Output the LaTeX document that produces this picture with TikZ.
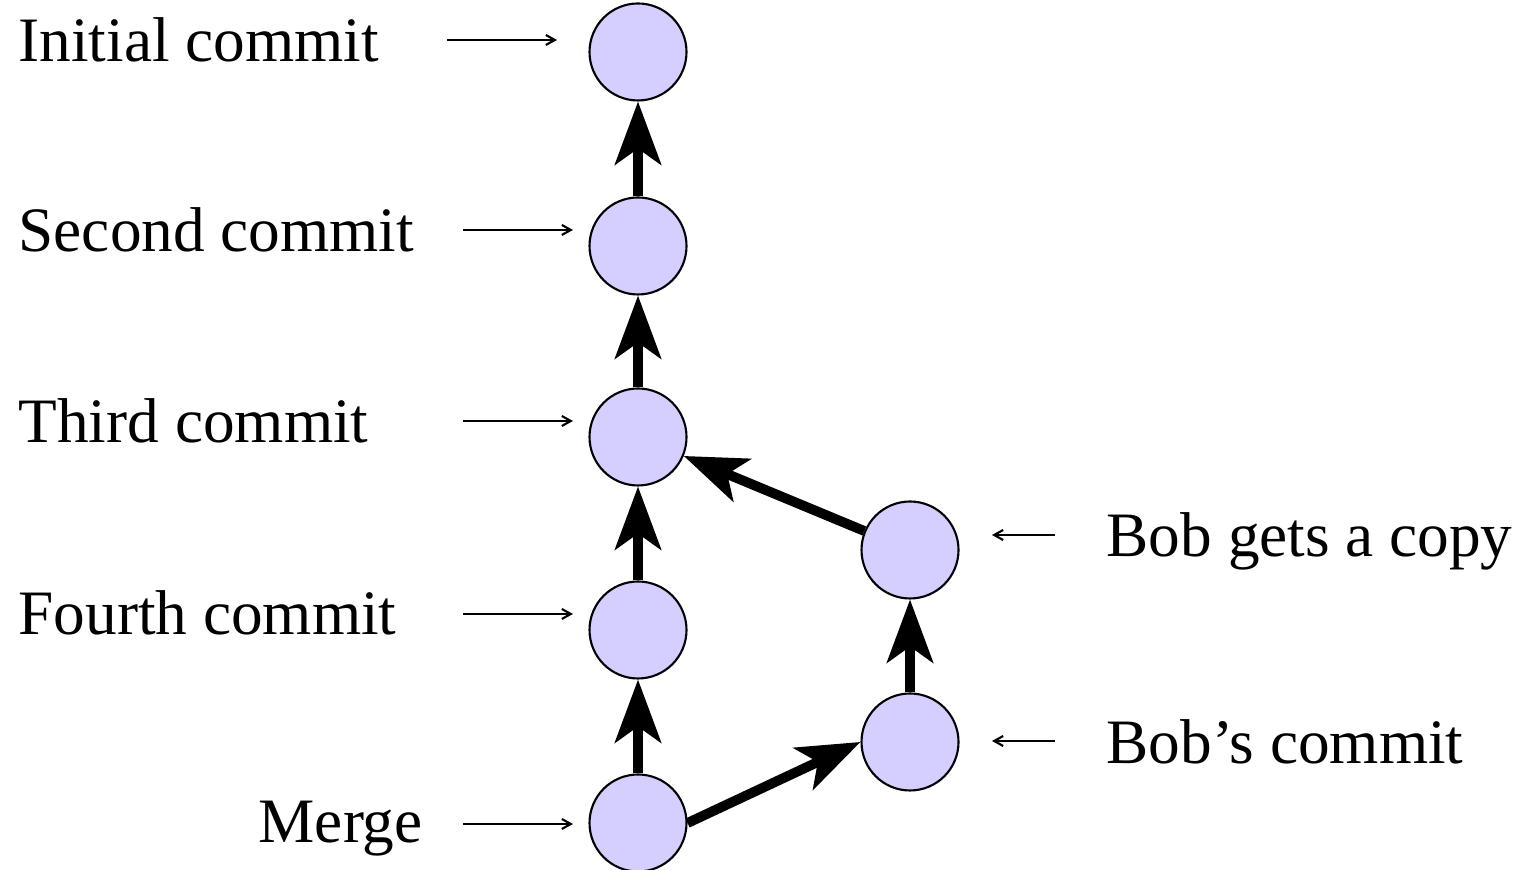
\documentclass[tikz,border=0pt]{standalone}
\usepackage{fontspec}
\setmainfont{Liberation Serif}
\usetikzlibrary{arrows.meta}
\definecolor{commitfill}{RGB}{213,207,255}
\begin{document}
\begin{tikzpicture}[>=stealth,
  commit/.style={circle,draw,line width=0.6pt,fill=commitfill,minimum size=0.97cm,inner sep=0pt},
  lbl/.style={anchor=base west,inner sep=0pt,font=\fontsize{18}{20}\selectfont},
  parent/.style={-{Stealth[length=0.63cm,width=0.46cm,inset=0.16cm]},line width=2.8pt},
  pointer/.style={-{Straight Barb[length=0.09cm,width=0.1cm]},line width=0.6pt}]
\useasboundingbox (0,0) rectangle (15.28,8.70);

% commits
\node [commit] (init) at (6.38,8.18) {};
\node [commit] (second) at (6.38,6.24) {};
\node [commit] (third) at (6.38,4.33) {};
\node [commit] (fourth) at (6.38,2.40) {};
\node [commit] (merge) at (6.38,0.47) {};
\node [commit] (copy) at (9.10,3.20) {};
\node [commit] (bob) at (9.10,1.28) {};

\draw [parent] (second) -- (init);
\draw [parent] (third) -- (second);
\draw [parent] (fourth) -- (third);
\draw [parent] (merge) -- (fourth);
\draw [parent] (copy) -- (third);
\draw [parent] (bob) -- (copy);
\draw [parent] (merge.east) -- (bob.west);

% labels
\node [lbl] (linit) at (0.18,8.08) {Initial commit};
\node [lbl] (lsecond) at (0.18,6.18) {Second commit};
\node [lbl] (lthird) at (0.18,4.27) {Third commit};
\node [lbl] (lfourth) at (0.18,2.35) {Fourth commit};
\node [lbl] (lmerge) at (2.58,0.27) {Merge};
\node [lbl] (lcopy) at (11.06,3.13) {Bob gets a copy};
\node [lbl] (lbob) at (11.06,1.06) {Bob’s commit};

\coordinate (pinit) at (4.47,8.30);
\coordinate (psecond) at (4.63,6.40);
\coordinate (pthird) at (4.63,4.49);
\coordinate (pfourth) at (4.63,2.56);
\coordinate (pmerge) at (4.63,0.46);
\coordinate (pcopy) at (10.55,3.35);
\coordinate (pbob) at (10.55,1.29);

\draw [pointer] (pinit) -- ++(1.10,0) coordinate (tinit);
\draw [pointer] (psecond) -- ++(1.10,0) coordinate (tsecond);
\draw [pointer] (pthird) -- ++(1.10,0) coordinate (tthird);
\draw [pointer] (pfourth) -- ++(1.10,0) coordinate (tfourth);
\draw [pointer] (pmerge) -- ++(1.10,0) coordinate (tmerge);
\draw [pointer] (pcopy) -- ++(-0.63,0) coordinate (tcopy);
\draw [pointer] (pbob) -- ++(-0.63,0) coordinate (tbob);

\end{tikzpicture}
\end{document}
